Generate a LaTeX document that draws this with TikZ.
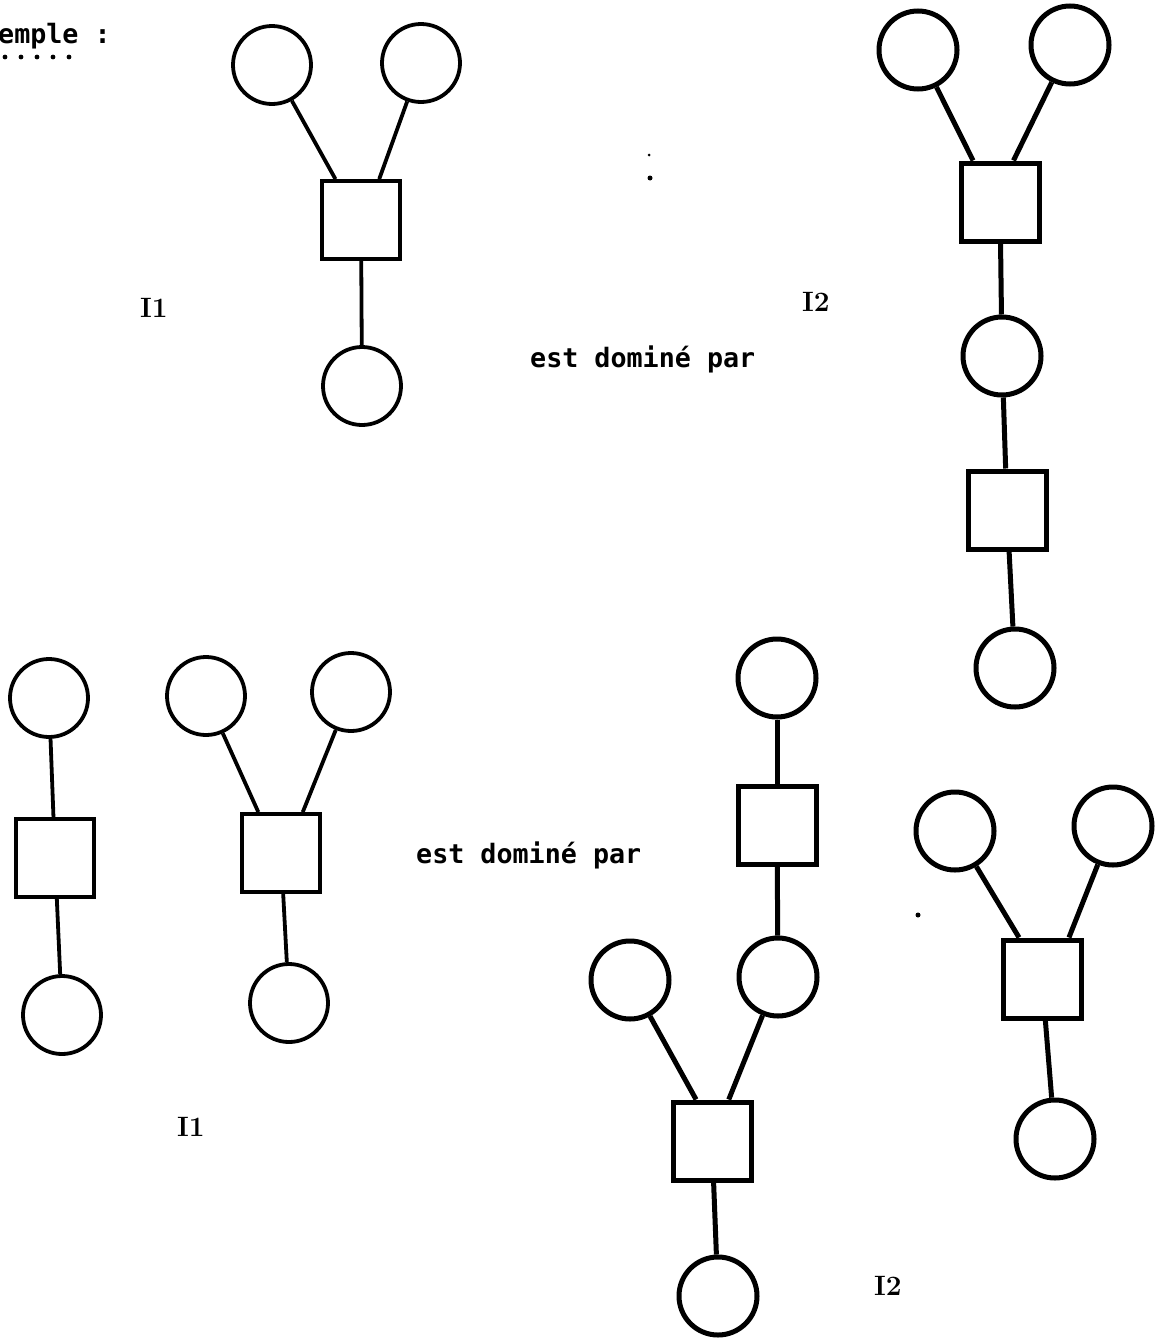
\documentclass[tikz,border=0pt]{standalone}
\usepackage{fontspec}
\setmonofont{DejaVu Sans Mono}

\begin{document}
\begin{tikzpicture}[
    x=1pt, y=-1pt,
    rond/.style={
        draw,
        circle,
        line width=3.8pt,
        minimum size=78pt,
        inner sep=0pt
    },
    carre/.style={
        draw,
        rectangle,
        line width=3.8pt,
        minimum size=78pt,
        inner sep=0pt
    },
    lien/.style={line width=3.8pt},
    gras/.style={line width=5pt},
    texte/.style={
        font=\ttfamily\bfseries\fontsize{26.7}{30}\selectfont,
        inner sep=0pt,
        anchor=base west
    },
    etiq/.style={
        font=\bfseries\fontsize{28}{32}\selectfont,
        inner sep=0pt,
        anchor=base west
    }
]
\useasboundingbox (0,0) rectangle (1168,1344);

\node[texte] (ex) at (-2,43) {emple :};
\foreach \x in {5,21,37,53,69}
    \fill (\x,57) circle (2.4pt);

% haut : I1
\node[rond]  (A1) at (272,65)  {};
\node[rond]  (A2) at (421,63)  {};
\node[carre] (Aq) at (361,220) {};
\node[rond]  (A3) at (362,386) {};
\draw[lien] (A1) -- (Aq.122);
\draw[lien] (A2) -- (Aq.66);
\draw[lien] (Aq) -- (A3);

\node[etiq]  (i1h)  at (140,317) {I1};
\node[texte] (dom1) at (530,367) {est dominé par};
\node[etiq]  (i2h)  at (802,311) {I2};
\fill (649,155) circle (1.5pt);
\fill (650,178) circle (2.5pt);

% haut : I2
\node[rond, gras]  (B1) at (918,50)   {};
\node[rond, gras]  (B2) at (1070,45)  {};
\node[carre, gras] (Bq) at (1000,202) {};
\node[rond, gras]  (B3) at (1002,356) {};
\node[carre, gras] (Bp) at (1007,510) {};
\node[rond, gras]  (B4) at (1015,668) {};
\draw[lien, gras] (B1) -- (Bq.123);
\draw[lien, gras] (B2) -- (Bq.72);
\draw[lien, gras] (Bq) -- (B3);
\draw[lien, gras] (B3) -- (Bp);
\draw[lien, gras] (Bp) -- (B4);

% bas : I1
\node[rond]  (C1) at (49,698)  {};
\node[carre] (Cq) at (55,858)  {};
\node[rond]  (C2) at (62,1015) {};
\draw[lien] (C1) -- (Cq);
\draw[lien] (Cq) -- (C2);

\node[rond]  (D1) at (206,696)  {};
\node[rond]  (D2) at (351,692)  {};
\node[carre] (Dq) at (281,853)  {};
\node[rond]  (D3) at (289,1003) {};
\draw[lien] (D1) -- (Dq.119);
\draw[lien] (D2) -- (Dq.62);
\draw[lien] (Dq) -- (D3);

\node[etiq]  (i1b)  at (177,1136) {I1};
\node[texte] (dom2) at (416,863)  {est dominé par};

% bas : I2
\node[rond, gras]  (E1) at (777,678)  {};
\node[carre, gras] (Eq) at (777,825)  {};
\node[rond, gras]  (E2) at (778,977)  {};
\node[rond, gras]  (E3) at (630,980)  {};
\node[carre, gras] (Ep) at (712,1141) {};
\node[rond, gras]  (E4) at (718,1296) {};
\draw[lien, gras] (E1) -- (Eq);
\draw[lien, gras] (Eq) -- (E2);
\draw[lien, gras] (E3) -- (Ep.111);
\draw[lien, gras] (E2) -- (Ep.68);
\draw[lien, gras] (Ep) -- (E4);

\node[rond, gras]  (F1) at (955,831)   {};
\node[rond, gras]  (F2) at (1113,826)  {};
\node[carre, gras] (Fq) at (1042,979)  {};
\node[rond, gras]  (F3) at (1055,1139) {};
\draw[lien, gras] (F1) -- (Fq.119);
\draw[lien, gras] (F2) -- (Fq.57);
\draw[lien, gras] (Fq) -- (F3);
\fill (918,915) circle (2.5pt);

\node[etiq] (i2b) at (874,1295) {I2};

\end{tikzpicture}
\end{document}
